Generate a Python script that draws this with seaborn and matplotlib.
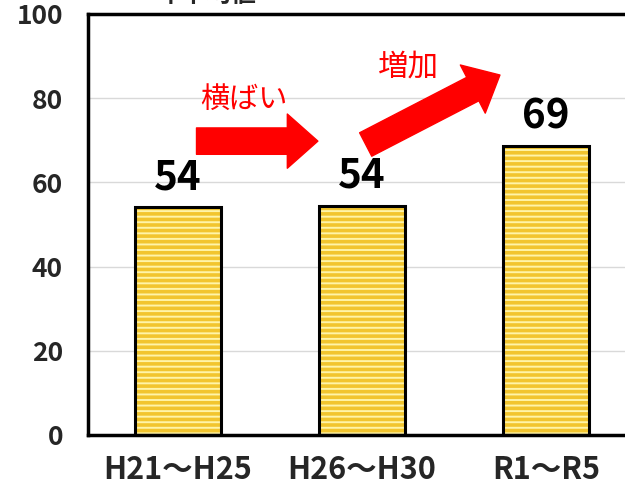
import matplotlib
matplotlib.use("Agg")
import matplotlib.pyplot as plt
import seaborn as sns
import pandas as pd

# data
periods = ["H21～H25", "H26～H30", "R1～R5"]
values = [54.1, 54.5, 68.7]
labels = ["54", "54", "69"]
title_text = "年平均値"
flat_text = "横ばい"
up_text = "増加"

sns.set_style("white")
plt.rcParams["font.family"] = ["Noto Sans CJK JP", "DejaVu Sans"]
plt.rcParams["hatch.linewidth"] = 2.6

df = pd.DataFrame({"period": periods, "value": values})

fig = plt.figure(figsize=(6.25, 4.87), dpi=100)
ax = fig.add_axes([0.1408, 0.1068, 0.8592, 0.8645])

# striped fill
sns.barplot(data=df, x="period", y="value", ax=ax, width=0.47,
            color="#FFF4A8", saturation=1, linewidth=0)
for p in ax.patches:
    p.set_facecolor("#FFF4A8")
    p.set_edgecolor("#F2C52E")
    p.set_hatch("---")
    p.set_linewidth(0)

# black outline on top
sns.barplot(data=df, x="period", y="value", ax=ax, width=0.47,
            fill=False, color="black", linewidth=2.2, saturation=1)

# value labels
for i, (v, t) in enumerate(zip(values, labels)):
    ax.text(i, v + 4.2, t, ha="center", va="baseline", fontsize=29,
            fontweight="bold", color="black")

# arrows
ax.annotate("", xy=(0.76, 69.8), xytext=(0.10, 69.8),
            arrowprops=dict(arrowstyle="simple,head_length=1.1,head_width=1.95,tail_width=0.95",
                            mutation_scale=20, color="red", shrinkA=0, shrinkB=0))
ax.annotate("", xy=(1.75, 85.5), xytext=(1.02, 69.0),
            arrowprops=dict(arrowstyle="simple,head_length=1.1,head_width=1.95,tail_width=0.95",
                            mutation_scale=20, color="red", shrinkA=0, shrinkB=0))
ax.text(0.355, 79.6, flat_text, ha="center", va="center", fontsize=21, color="red")
ax.text(1.25, 87.3, up_text, ha="center", va="center", fontsize=22, color="red")

ax.set_ylim(0, 100)
ax.set_xlim(-0.49, 2.43)
ax.set_yticks([0, 20, 40, 60, 80, 100])
ax.yaxis.grid(True, color="#D9D9D9", linewidth=1)
ax.set_axisbelow(True)
ax.set_xlabel("")
ax.set_ylabel("")
ax.tick_params(axis="both", length=0)
ax.tick_params(axis="y", pad=18, labelsize=19)
ax.tick_params(axis="x", pad=14, labelsize=22)
for lab in ax.get_xticklabels() + ax.get_yticklabels():
    lab.set_fontweight("bold")
for s in ["left", "top", "bottom"]:
    ax.spines[s].set_color("black")
    ax.spines[s].set_linewidth(2.5)
ax.spines["right"].set_visible(False)

# title mostly cut off above the figure
fig.text(0.33, 0.986, title_text, ha="center", va="bottom", fontsize=18,
         fontweight="bold")

fig.savefig("out.png", dpi=100)
